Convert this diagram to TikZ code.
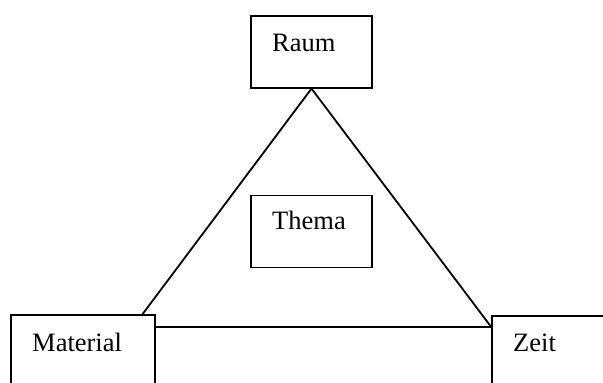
\documentclass[tikz,border=0pt]{standalone}
\usepackage{fontspec}
\setmainfont{Liberation Serif}
\begin{document}
\begin{tikzpicture}[x=1pt,y=-1pt,
  boxn/.style={draw=black, line width=1.8pt, rectangle, inner sep=0pt, fill=none},
  txt/.style={anchor=base west, inner sep=0pt, font=\fontsize{26.5}{30}\selectfont},
  edge/.style={draw=black, line width=1.8pt}]
\clip (0,0) rectangle (603,383);
\fill[white] (0,0) rectangle (603,383);
% boxes
\node[boxn, minimum width=121pt, minimum height=72pt] (raum) at (311.5,51.7) {};
\node[boxn, minimum width=121pt, minimum height=72pt] (thema) at (311.5,231.4) {};
\node[boxn, minimum width=144pt, minimum height=90pt] (mat) at (83,360) {};
\node[boxn, minimum width=130pt, minimum height=90pt] (zeit) at (557,361) {};
% texts
\node[txt] (traum) at (272,51.7) {Raum};
\node[txt] (tthema) at (272,229) {Thema};
\node[txt] (tmat) at (32,351) {Material};
\node[txt] (tzeit) at (513,351.7) {Zeit};
% triangle
\coordinate (matTop) at ([xshift=-13.3pt]mat.north east);
\coordinate (matSide) at ([yshift=-12.7pt]mat.north east);
\coordinate (zeitSide) at ([yshift=-11.7pt]zeit.north west);
\draw[edge] (raum.south) -- (matTop);
\draw[edge] (raum.south) -- (zeitSide);
\draw[edge] (matSide) -- (zeitSide);
\end{tikzpicture}
\end{document}
